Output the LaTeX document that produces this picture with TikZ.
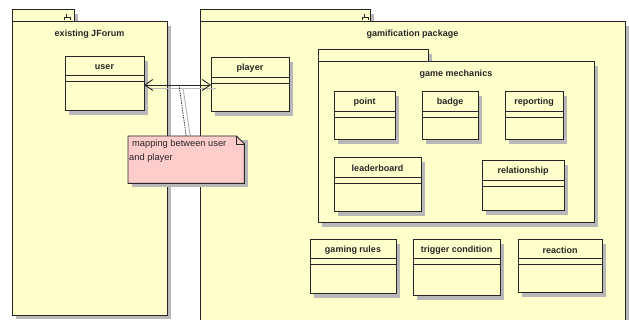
\documentclass[tikz,border=0pt]{standalone}
\usepackage{fontspec}
\setmainfont{Liberation Sans}
\usetikzlibrary{arrows.meta,calc}
\definecolor{pkgfill}{HTML}{FFFFCC}
\definecolor{notefill}{HTML}{FFCCCC}
\definecolor{shadowgray}{HTML}{B8B8B8}
\tikzset{
  box/.style={draw=black!85, line width=1pt, fill=pkgfill, inner sep=0pt, outer sep=0pt, anchor=north west},
  sep/.style={draw=black!85, line width=1pt},
  lbl/.style={font=\bfseries\fontsize{9}{11}\selectfont, inner sep=0pt, text=black!85},
  notetxt/.style={font=\fontsize{9.3}{11}\selectfont, inner sep=0pt, anchor=west, text=black!85},
  icon/.style={draw=black!85, line width=0.7pt},
  shadowfill/.style={fill=shadowgray, draw=none},
}
% #1 name, #2 x1, #3 y1, #4 x2, #5 y2, #6 first separator y, #7 label
\newcommand\myclass[7]{%
  \path[shadowfill] (#2+4,#3+4) rectangle (#4+4,#5+4);
  \node[box, minimum width={(#4-#2)*1pt}, minimum height={(#5-#3)*1pt}] (#1) at (#2,#3) {};
  \draw[sep] (#2,#6) -- (#4,#6);
  \draw[sep] (#2,#6+6) -- (#4,#6+6);
  \node[lbl] at ({(#2+#4)/2},{(#3+#6)/2+0.5}) {#7};
}
% #1 name, #2 x1, #3 y1 (tab top), #4 x2, #5 y2, #6 tab x2, #7 label, #8 label y
\newcommand\mypackage[8]{%
  \path[shadowfill] (#2+4,#3+4) rectangle (#6+4,#3+12);
  \path[shadowfill] (#2+4,#3+16) rectangle (#4+4,#5+4);
  \draw[box] (#2,#3) rectangle (#6,#3+12);
  \node[box, minimum width={(#4-#2)*1pt}, minimum height={(#5-#3-12)*1pt}] (#1) at (#2,#3+12) {};
  \node[lbl] at ({(#2+#4)/2},#8) {#7};
}
\newcommand\tabicon[2]{%
  \draw[icon] (#1-3,#2+2) -- (#1-3,#2-1) -- (#1+3,#2-1) -- (#1+3,#2+2);
  \draw[icon] (#1-1,#2-1) -- (#1-1,#2-4);
}
\begin{document}
\begin{tikzpicture}[x=1pt,y=-1pt]
\useasboundingbox (0,0) rectangle (629,320);
\fill[white] (0,0) rectangle (629,320);

% packages
\mypackage{jforum}{12}{10}{167}{315}{74}{existing JForum}{34}
\tabicon{67}{18}
\mypackage{gamif}{200}{10}{625}{335}{370}{gamification package}{34}
\tabicon{365}{18}
\mypackage{mech}{318}{50}{594}{223}{428}{game mechanics}{74}

% classes
\myclass{user}{65}{57}{144}{111}{76}{user}
\myclass{player}{211}{58}{289}{112}{78}{player}
\myclass{point}{334}{92}{395}{140}{112}{point}
\myclass{badge}{422}{92}{478}{140}{112}{badge}
\myclass{reporting}{505}{92}{563}{140}{112}{reporting}
\myclass{leaderboard}{334}{158}{421}{212}{178}{leaderboard}
\myclass{relationship}{482}{161}{564}{211}{181}{relationship}
\myclass{rules}{310}{240}{396}{294}{259}{gaming rules}
\myclass{trigger}{413}{240}{500}{296}{259}{trigger condition}
\myclass{reaction}{518}{240}{602}{293}{259}{reaction}

% association with shadow
\draw[shadowgray, line width=1pt] ([shift={(6,4)}]user.east |- player.west) -- ([shift={(5,4)}]player.west);
\draw[black!85, line width=0.9pt, {Straight Barb[length=8pt,width=11pt]}-{Straight Barb[length=8pt,width=11pt]}]
  (user.east |- player.west) -- (player.west);

% note
\coordinate (m) at (179,85);
\node[minimum width=116pt, minimum height=47pt, inner sep=0pt, anchor=north west] (note) at (128,136) {};
\draw[shadowgray, line width=1pt] ([shift={(4,3)}]m) -- ([shift={(4,0)}]note.north);
\draw[black!85, line width=0.7pt, dash pattern=on 1.5pt off 1pt] (m) -- (note.north);
\path[shadowfill] (132,140) rectangle (248,187);
\draw[black!85, line width=0.9pt, fill=notefill]
  (note.north west) -- ([xshift=-8pt]note.north east) -- ([yshift=-8pt]note.north east) -- (note.south east) -- (note.south west) -- cycle;
\draw[black!85, line width=0.6pt] ([xshift=-8pt]note.north east) -- ([xshift=-8pt,yshift=-8pt]note.north east) -- ([yshift=-8pt]note.north east);
\node[notetxt] (n1) at (132,144) {mapping between user};
\node[notetxt] (n2) at (129,158) {and player};
\end{tikzpicture}
\end{document}
